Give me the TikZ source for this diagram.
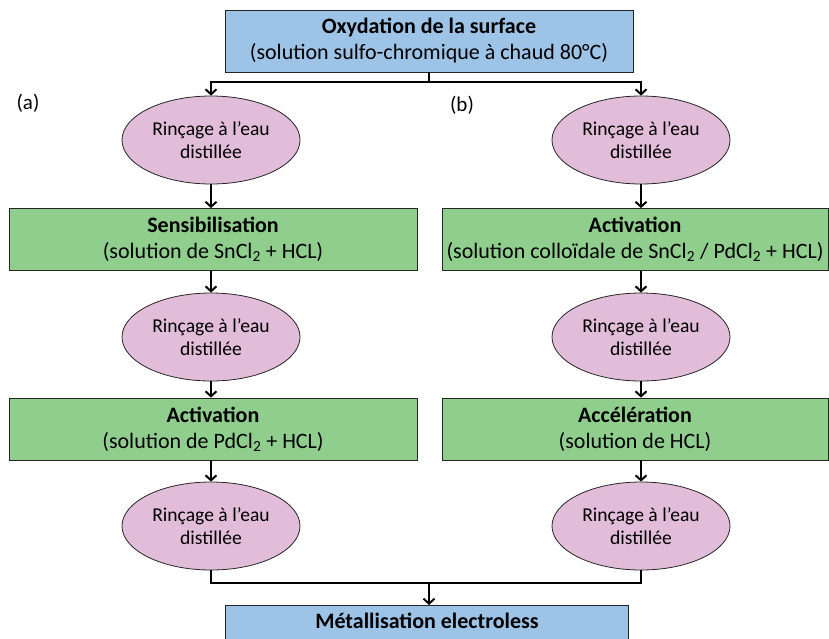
\documentclass[tikz,border=0pt]{standalone}
\usepackage{fontspec}
\setmainfont{Carlito}
\usetikzlibrary{shapes.geometric, arrows.meta, positioning}
\definecolor{boxblue}{HTML}{9DC3E6}
\definecolor{boxgreen}{HTML}{8FCE8D}
\definecolor{ellpink}{HTML}{E2BDDA}
\tikzset{
  % étape principale (bleu)
  etape/.style={draw=black!85, fill=boxblue, minimum height=62pt, align=center,
    font=\fontsize{22}{26}\selectfont, inner sep=2pt, line width=0.8pt},
  % bain chimique (vert)
  bain/.style={etape, fill=boxgreen},
  % rinçage
  rincage/.style={ellipse, draw=black!85, fill=ellpink, minimum width=178pt,
    minimum height=88pt, inner sep=0pt, align=center,
    font=\fontsize{19.6}{23}\selectfont, line width=0.8pt},
  % liaisons
  lien/.style={line width=2pt},
  fleche/.style={lien, -{Straight Barb[length=5pt, width=11pt]}},
  % étiquettes
  lbl/.style={font=\fontsize{21}{24}\selectfont},
}

\begin{document}
\begin{tikzpicture}[x=1pt, y=-1pt]
  \useasboundingbox (0,0) rectangle (829,638);
  \node[etape, minimum width=408pt] (oxy) at (429,41) {\textbf{Oxydation de la surface}\\(solution sulfo-chromique à chaud 80°C)};
  \coordinate (bif) at (429,82);
  \node[lbl] (la) at (28,103) {(a)};
  \node[lbl] (lb) at (462,105) {(b)};
  % voie (a)
  \node[rincage] (ra1) at (211,140) {Rinçage à l’eau\\distillée};
  \node[bain, minimum width=408pt] (sens) at (213,239.5) {\textbf{Sensibilisation}\\(solution de SnCl\textsubscript{2} + HCL)};
  \node[rincage] (ra2) at (211,337) {Rinçage à l’eau\\distillée};
  \node[bain, minimum width=408pt] (acta) at (213,429) {\textbf{Activation}\\(solution de PdCl\textsubscript{2} + HCL)};
  \node[rincage] (ra3) at (211,526) {Rinçage à l’eau\\distillée};
  % voie (b)
  \node[rincage] (rb1) at (641,140) {Rinçage à l’eau\\distillée};
  \node[bain, minimum width=386pt] (actb) at (635,239.5) {\textbf{Activation}\\(solution colloïdale de SnCl\textsubscript{2} / PdCl\textsubscript{2} + HCL)};
  \node[rincage] (rb2) at (641,337) {Rinçage à l’eau\\distillée};
  \node[bain, minimum width=386pt] (acc) at (635,429) {\textbf{Accélération}\\(solution de HCL)};
  \node[rincage] (rb3) at (641,526) {Rinçage à l’eau\\distillée};
  \coordinate (fus) at (429,583);
  \node[etape, anchor=north, minimum width=403pt, minimum height=0pt, text height=21pt, text depth=40pt] (metal) at (427,605) {\textbf{Métallisation electroless}};
  % flèches
  \draw[lien] (oxy.south) -- (bif);
  \draw[fleche] (bif) -| (ra1.north);
  \draw[fleche] (bif) -| (rb1.north);
  \draw[fleche] (ra1.south) -- (ra1.south |- sens.north);
  \draw[fleche] (ra1.south |- sens.south) -- (ra2.north);
  \draw[fleche] (ra2.south) -- (ra2.south |- acta.north);
  \draw[fleche] (ra2.south |- acta.south) -- (ra3.north);
  \draw[fleche] (rb1.south) -- (rb1.south |- actb.north);
  \draw[fleche] (rb1.south |- actb.south) -- (rb2.north);
  \draw[fleche] (rb2.south) -- (rb2.south |- acc.north);
  \draw[fleche] (rb2.south |- acc.south) -- (rb3.north);
  \draw[lien] (ra3.south) |- (fus) -| (rb3.south);
  \draw[fleche] (fus) -- (fus |- metal.north);
\end{tikzpicture}
\end{document}
